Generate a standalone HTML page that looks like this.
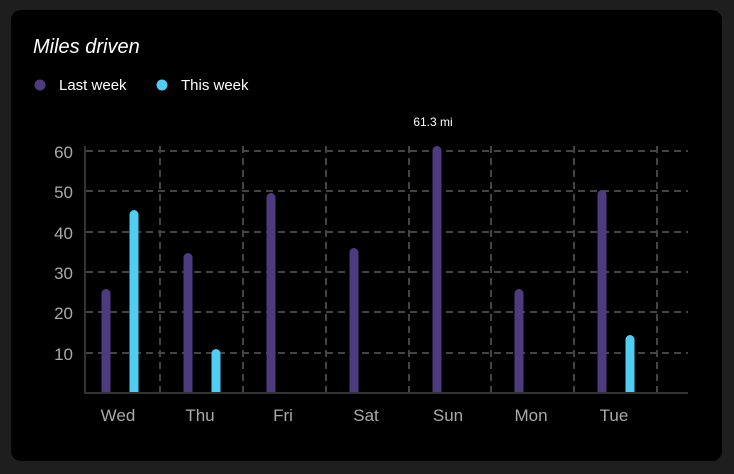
<!DOCTYPE html><html><head><style>
body{margin:0;background:#1e1e1e;width:734px;height:474px;overflow:hidden;font-family:"Liberation Sans",sans-serif}
</style></head><body>
<svg width="734" height="474" style="position:absolute;left:0;top:0">
<rect x="11" y="10" width="711" height="451" rx="10" fill="#000"/>
<text x="33" y="53" fill="#fff" font-size="20" font-style="italic">Miles driven</text>
<circle cx="40" cy="85" r="5.5" fill="#4e3a7e"/><text x="59" y="90" fill="#fff" font-size="15">Last week</text>
<circle cx="162" cy="85" r="5.5" fill="#4fcdf2"/><text x="181" y="90" fill="#fff" font-size="15">This week</text>
<g stroke="#444" stroke-width="2" stroke-dasharray="7,5">
<line x1="86" y1="151" x2="688" y2="151"/><line x1="86" y1="191" x2="688" y2="191"/><line x1="86" y1="232" x2="688" y2="232"/><line x1="86" y1="272" x2="688" y2="272"/><line x1="86" y1="312" x2="688" y2="312"/><line x1="86" y1="353" x2="688" y2="353"/>
<line x1="160" y1="146" x2="160" y2="393"/><line x1="243" y1="146" x2="243" y2="393"/><line x1="326" y1="146" x2="326" y2="393"/><line x1="409" y1="146" x2="409" y2="393"/><line x1="491" y1="146" x2="491" y2="393"/><line x1="574" y1="146" x2="574" y2="393"/><line x1="657" y1="146" x2="657" y2="393"/>
</g>
<g stroke="#333" stroke-width="2"><line x1="85" y1="146" x2="85" y2="394"/><line x1="85" y1="393" x2="688" y2="393"/></g>
<g fill="#aaa" font-size="17" text-anchor="end">
<text x="73" y="158">60</text><text x="73" y="198">50</text><text x="73" y="239">40</text><text x="73" y="279">30</text><text x="73" y="319">20</text><text x="73" y="360">10</text></g>
<g fill="#aaa" font-size="17" text-anchor="middle">
<text x="118" y="421">Wed</text><text x="200" y="421">Thu</text><text x="283" y="421">Fri</text><text x="366" y="421">Sat</text><text x="448" y="421">Sun</text><text x="531" y="421">Mon</text><text x="614" y="421">Tue</text></g>
<g fill="#4e3a7e">
<rect x="101.5" y="289" width="9" height="110" rx="4.5"/>
<rect x="183.5" y="253" width="9" height="146" rx="4.5"/>
<rect x="266.5" y="193" width="9" height="206" rx="4.5"/>
<rect x="349.5" y="248" width="9" height="151" rx="4.5"/>
<rect x="432.5" y="146" width="9" height="253" rx="4.5"/>
<rect x="514.5" y="289" width="9" height="110" rx="4.5"/>
<rect x="597.5" y="190" width="9" height="209" rx="4.5"/></g>
<g fill="#4fcdf2">
<rect x="129.5" y="210" width="9" height="189" rx="4.5"/>
<rect x="211.5" y="349" width="9" height="50" rx="4.5"/>
<rect x="625.5" y="335" width="9" height="64" rx="4.5"/></g>
<rect x="80" y="394" width="620" height="10" fill="#000"/>
<line x1="85" y1="393" x2="688" y2="393" stroke="#333" stroke-width="2"/>
<text x="433" y="126" fill="#fff" font-size="12" text-anchor="middle">61.3 mi</text>
</svg>
</body></html>
